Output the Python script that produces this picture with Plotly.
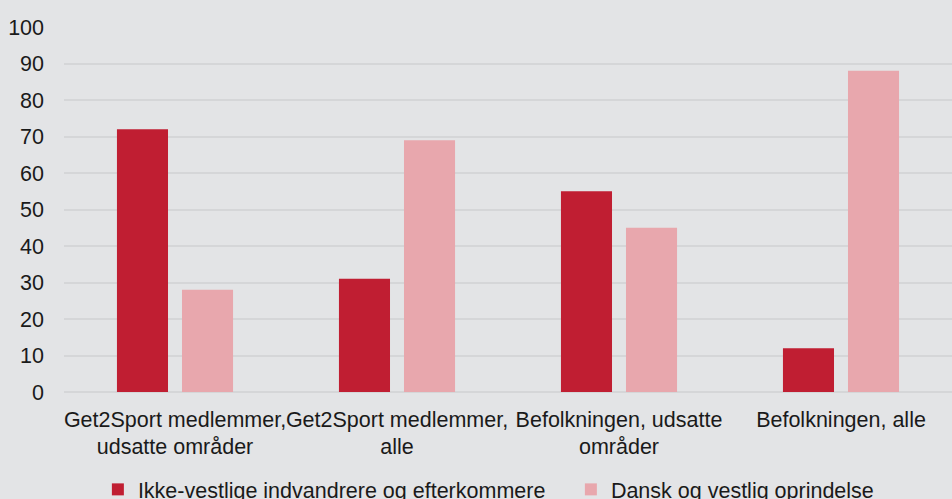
import plotly.graph_objects as go

categories = ["Get2Sport medlemmer,<br>udsatte områder",
              "Get2Sport medlemmer,<br>alle",
              "Befolkningen, udsatte<br>områder",
              "Befolkningen, alle"]
series1_name = "Ikke-vestlige indvandrere og efterkommere"
series1 = [72, 31, 55, 12]
series2_name = "Dansk og vestlig oprindelse"
series2 = [28, 69, 45, 88]
y_ticks = [0, 10, 20, 30, 40, 50, 60, 70, 80, 90, 100]

BG = "#e3e4e6"
FS = 21.5
fig = go.Figure()
fig.add_trace(go.Bar(x=categories, y=series1, name=series1_name, legendwidth=428,
                     marker=dict(color="#c01e32", line=dict(width=0))))
fig.add_trace(go.Bar(x=categories, y=series2, name=series2_name,
                     marker=dict(color="#e8a7ad", line=dict(width=0))))

fig.update_layout(
    width=952, height=499,
    paper_bgcolor=BG, plot_bgcolor=BG,
    margin=dict(l=64, r=0, t=27, b=107, autoexpand=False),
    barmode="group", bargap=0.414, bargroupgap=0.215,
    font=dict(family="Liberation Sans, Arial, sans-serif", size=FS, color="#1a1a1a"),
    showlegend=True,
    legend=dict(orientation="h", xref="container", yref="paper",
                x=0.513, xanchor="center", y=-0.323, yanchor="bottom",
                font=dict(size=FS), bgcolor="rgba(0,0,0,0)"),
)
fig.update_xaxes(showgrid=False, showline=False, ticks="", tickfont=dict(size=FS),
                 tickangle=0, ticklabelstandoff=12)
fig.update_yaxes(range=[0, 100], tickvals=y_ticks, showgrid=True, gridcolor="#d5d6d8",
                 gridwidth=1.5, zeroline=True, zerolinecolor="#d5d6d8", zerolinewidth=1.5,
                 showline=False, ticks="", tickfont=dict(size=FS), ticklabelstandoff=19)

fig.write_html("out.html", config={"displayModeBar": False},
               post_script="document.body.style.margin='0';document.body.style.padding='0';"
                           "document.body.style.background='" + BG + "';")
